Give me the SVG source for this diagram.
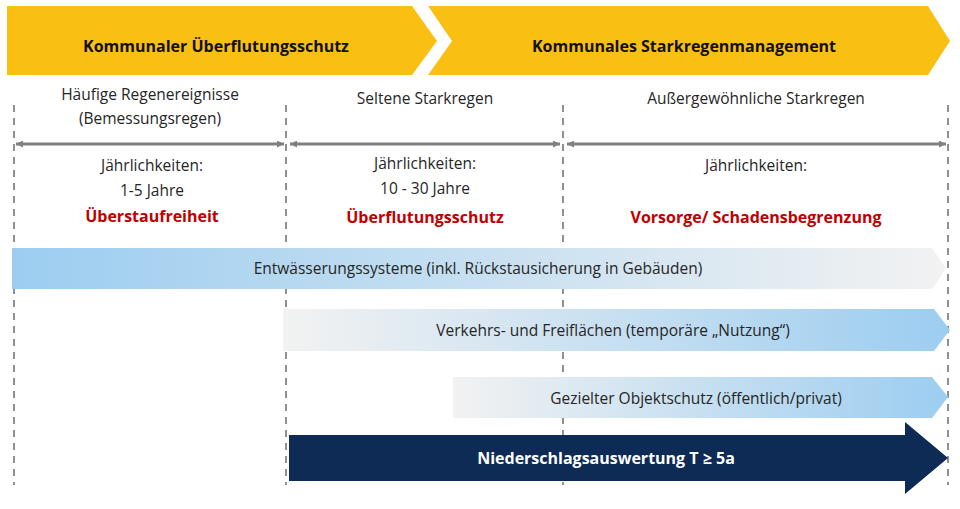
<svg xmlns="http://www.w3.org/2000/svg" width="960" height="509" viewBox="0 0 960 509">
<style>
text{font-family:"Open Sans","Noto Sans","Liberation Sans",sans-serif;text-anchor:middle;fill:#262626}
.h{font-size:16px;font-weight:bold;fill:#111}
.t{font-size:15.5px}
.r{font-size:16px;font-weight:bold;fill:#c00000}
.d{stroke:#909090;stroke-width:2;stroke-dasharray:7,6}
.a{stroke:#808080;stroke-width:3;fill:none}
</style>
<defs>
<marker id="ah" viewBox="0 0 10 10" refX="10" refY="5" markerWidth="8" markerHeight="7" markerUnits="userSpaceOnUse" orient="auto-start-reverse"><path d="M0,0L10,5L0,10Z" fill="#808080"/></marker>
<linearGradient id="g1" x1="0" x2="1"><stop offset="0" stop-color="#9ccdf0"/><stop offset="1" stop-color="#f2f2f2"/></linearGradient>
<linearGradient id="g2" x1="0" x2="1"><stop offset="0" stop-color="#f2f2f2"/><stop offset="1" stop-color="#9ccdf0"/></linearGradient>
</defs>
<g id="phase1"><polygon points="7,6 412,6 437,41 412,75 7,75" fill="#f9c013"/><text class="h" x="216" y="52">Kommunaler Überflutungsschutz</text></g>
<g id="phase2"><polygon points="428,6 928,6 950,41 928,75 428,75 452,41" fill="#f9c013"/><text class="h" x="684" y="52">Kommunales Starkregenmanagement</text></g>
<g id="connectors">
<line class="d" x1="14" y1="105" x2="14" y2="485"/>
<line class="d" x1="286" y1="105" x2="286" y2="485"/>
<line class="d" x1="563" y1="105" x2="563" y2="485"/>
<line class="d" x1="948" y1="105" x2="948" y2="485"/>
<line class="a" x1="16" y1="144" x2="284" y2="144" marker-start="url(#ah)" marker-end="url(#ah)" style="stroke-width:3"/>
<line class="a" x1="290" y1="144" x2="560" y2="144" marker-start="url(#ah)" marker-end="url(#ah)"/>
<line class="a" x1="567" y1="144" x2="946" y2="144" marker-start="url(#ah)" marker-end="url(#ah)"/>
</g>
<g id="sec1"><text class="t" x="150" y="100">Häufige Regenereignisse</text><text class="t" x="150" y="124">(Bemessungsregen)</text><text class="t" x="152" y="171">Jährlichkeiten:</text><text class="t" x="152" y="196">1-5 Jahre</text><text class="r" x="152" y="222">Überstaufreiheit</text></g>
<g id="sec2"><text class="t" x="425" y="104">Seltene Starkregen</text><text class="t" x="425" y="169">Jährlichkeiten:</text><text class="t" x="425" y="194">10 - 30 Jahre</text><text class="r" x="425" y="223">Überflutungsschutz</text></g>
<g id="sec3"><text class="t" x="756" y="104">Außergewöhnliche Starkregen</text><text class="t" x="756" y="171">Jährlichkeiten:</text><text class="r" x="756" y="223">Vorsorge/ Schadensbegrenzung</text></g>
<g id="bar1"><polygon points="12,248 932,248 946,268 932,289 12,289" fill="url(#g1)"/><text class="t" x="478" y="274">Entwässerungssysteme (inkl. Rückstausicherung in Gebäuden)</text></g>
<g id="bar2"><polygon points="283,309 934,309 950,330 934,351 283,351" fill="url(#g2)"/><text class="t" x="613" y="336">Verkehrs- und Freiflächen (temporäre „Nutzung“)</text></g>
<g id="bar3"><polygon points="453,377 932,377 948,397 932,418 453,418" fill="url(#g2)"/><text class="t" x="696" y="404">Gezielter Objektschutz (öffentlich/privat)</text></g>
<g id="bar4"><polygon points="289,435 905,435 905,422 948,458 905,494 905,481 289,481" fill="#0d2b55"/><text class="h" x="606" y="464" style="fill:#fff">Niederschlagsauswertung T ≥ 5a</text></g>
</svg>
